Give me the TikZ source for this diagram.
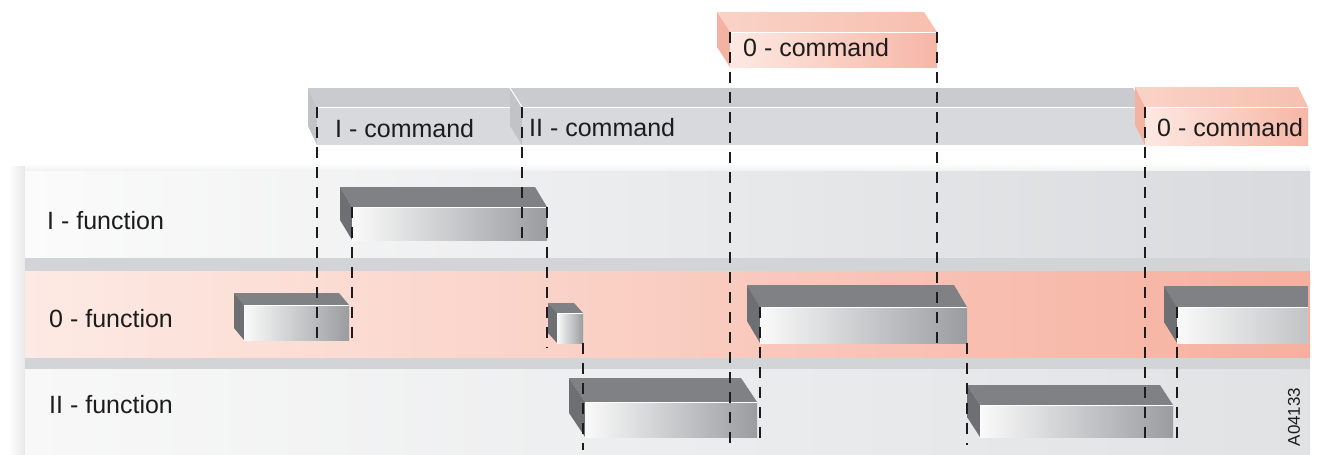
\documentclass[tikz,border=0pt]{standalone}
\usepackage{fontspec}
\setmainfont{Liberation Sans}
\definecolor{bandIl}{HTML}{FBFBFB}
\definecolor{bandIr}{HTML}{D8DADD}
\definecolor{pinkl}{HTML}{FDEAE4}
\definecolor{pinkr}{HTML}{F6B09F}
\definecolor{bandIIl}{HTML}{F8F8F8}
\definecolor{bandIIr}{HTML}{E0E2E4}
\definecolor{sepc}{HTML}{D2D4D7}
\definecolor{cmdtop}{HTML}{C9CBCE}
\definecolor{cmdfront}{HTML}{D7D9DC}
\definecolor{cmdside}{HTML}{C1C3C6}
\definecolor{pktopl}{HTML}{F9D3C7}
\definecolor{pktopr}{HTML}{F7BFAF}
\definecolor{pkfrontl}{HTML}{FDE9E2}
\definecolor{pkfrontr}{HTML}{F6B6A6}
\definecolor{pkside}{HTML}{F3B2A2}
\definecolor{fntop}{HTML}{7F8185}
\definecolor{fnside}{HTML}{6D6F73}
\definecolor{fnfl}{HTML}{FAFAFA}
\definecolor{fnfm}{HTML}{C8CACD}
\definecolor{fnfr}{HTML}{9A9CA0}
\definecolor{inkc}{HTML}{1C1C1C}
\newcommand{\tdbox}[8]{%
  \path[#2 top] ({#3-#8},#5) -- ({#4-#8},#5) -- (#4,#6) -- (#3,#6) -- cycle;
  \path[#2 side] ({#3-#8},#5) -- (#3,#6) -- (#3,#7) -- ({#3-#8},{#7-#6+#5}) -- cycle;
  \path[#2 front] (#3,#6) rectangle (#4,#7);
  \draw[white, line width=1pt] (#3,#6) -- (#4,#6);
  \coordinate (#1-tl) at (#3,#6);
  \coordinate (#1-tr) at (#4,#6);
  \coordinate (#1-bl) at (#3,#7);
  \coordinate (#1-br) at (#4,#7);
}
\tikzset{
  fn top/.style={fill=fntop},
  fn side/.style={fill=fnside},
  fn front/.style={left color=fnfl, middle color=fnfm, right color=fnfr},
  cmd top/.style={fill=cmdtop},
  cmd side/.style={fill=cmdside},
  cmd front/.style={fill=cmdfront},
  pk top/.style={left color=pktopl, right color=pktopr},
  pk side/.style={fill=pkside},
  pk front/.style={left color=pkfrontl, right color=pkfrontr},
  tline/.style={draw=inkc, line width=2.4pt, dash pattern=on 11pt off 9pt},
  lbl/.style={font=\fontsize{25}{29}\selectfont, text=inkc, inner sep=0pt, anchor=base west},
}
\begin{document}
\begin{tikzpicture}[x=1pt,y=-1pt]
\useasboundingbox (0,0) rectangle (1320,455);
\fill[white] (0,0) rectangle (1320,455);
% shadows
\shade[left color=white, right color=black!9] (8,166) rectangle (25,455);
\shade[top color=white, bottom color=black!6] (25,163) rectangle (1310,172);
% bands
\shade[left color=bandIl, right color=bandIr] (25,171) rectangle (1310,258);
\fill[sepc] (25,258) rectangle (1310,271);
\shade[left color=pinkl, right color=pinkr] (25,271) rectangle (1310,358);
\fill[sepc] (25,358) rectangle (1310,369);
\shade[left color=bandIIl, right color=bandIIr] (25,369) rectangle (1310,455);
% command bars
\tdbox{cI}{cmd}{317}{522}{88}{107}{145}{9}
\tdbox{cII}{cmd}{522}{1145}{88}{107}{145}{12}
\draw[white, line width=1pt] (510,88) -- (522,107);
\tdbox{c0r}{pk}{1145}{1308}{87}{107}{145}{10}
\tdbox{c0t}{pk}{730}{937}{12}{32}{67}{13}
% function boxes
\tdbox{fI}{fn}{352}{547}{187}{207}{240}{12}
\tdbox{f0a}{fn}{244}{349}{293}{305}{340}{10}
\tdbox{f0s}{fn}{557}{583}{303}{313}{343}{9}
\tdbox{f0b}{fn}{760}{967}{285}{307}{343}{13}
\begin{scope}
\clip (0,0) rectangle (1308,455);
\tdbox{f0r}{fn}{1177}{1400}{286}{307}{343}{13}
\end{scope}
\tdbox{fIIa}{fn}{585}{757}{378}{402}{437}{16}
\tdbox{fIIb}{fn}{980}{1173}{385}{405}{437}{13}
% end points of the timing lines
\coordinate (e1) at (317,338);
\coordinate (e2) at (352,345);
\coordinate (e3) at (522,247);
\coordinate (e4) at (547,348);
\coordinate (e5) at (583,450);
\coordinate (e6) at (730,450);
\coordinate (e7) at (760,445);
\coordinate (e8) at (937,345);
\coordinate (e9) at (967,445);
\coordinate (e10) at (1145,445);
\coordinate (e11) at (1177,445);
% timing lines
\draw[tline] (cI-tl) -- (e1);
\draw[tline] (fI-tl) -- (e2);
\draw[tline] (cI-tr) -- (e3);
\draw[tline] (fI-tr) -- (e4);
\draw[tline] (f0s-br) -- (e5);
\draw[tline] (c0t-tl) -- (e6);
\draw[tline] (f0b-tl) -- (e7);
\draw[tline] (c0t-tr) -- (e8);
\draw[tline] (f0b-br) -- (e9);
\draw[tline] (cII-tr) -- (e10);
\draw[tline] (f0r-tl) -- (e11);
% labels
\node[lbl] (tI) at (335,137) {I - command};
\node[lbl] (tII) at (529,136) {II - command};
\node[lbl] (t0a) at (743,56) {0 - command};
\node[lbl] (t0b) at (1157,136) {0 - command};
\node[lbl] (lI) at (47,229) {I - function};
\node[lbl] (l0) at (49,327) {0 - function};
\node[lbl] (lII) at (49,413) {II - function};
\node[font=\fontsize{17}{20}\selectfont, text=inkc, inner sep=0pt, rotate=90] (code) at (1294,417) {A04133};
\end{tikzpicture}
\end{document}
